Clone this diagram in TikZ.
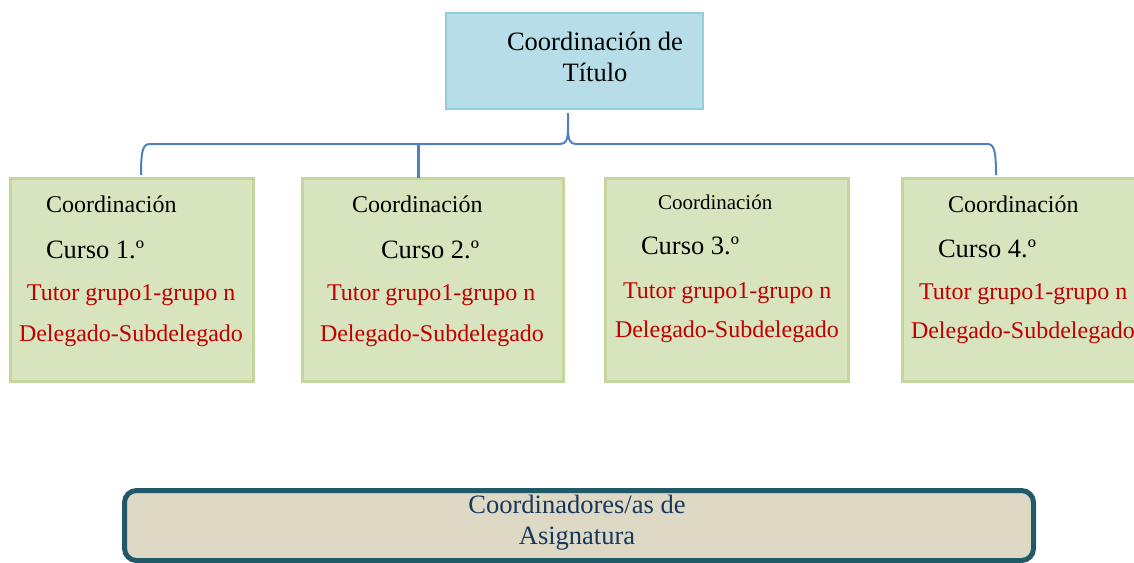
\documentclass[tikz,border=0pt]{standalone}
\usepackage{fontspec}
\setmainfont{Liberation Serif}
\usepackage{tikz}
\usetikzlibrary{positioning}

\definecolor{titlefill}{HTML}{B7DEE8}
\definecolor{titleline}{HTML}{93CDDD}
\definecolor{cursofill}{HTML}{D7E4BD}
\definecolor{cursoline}{HTML}{C3D69B}
\definecolor{bracecol}{HTML}{4F81BD}
\definecolor{asigfill}{HTML}{DDD9C4}
\definecolor{asigline}{HTML}{215968}
\definecolor{asigtext}{HTML}{17375E}
\definecolor{tutorred}{HTML}{C00000}

\begin{document}
\begin{tikzpicture}[x=1pt,y=-1pt,inner sep=0pt,outer sep=0pt,
  titlebox/.style={draw=titleline,line width=2.5pt,fill=titlefill,minimum width=257pt,minimum height=96pt},
  cursobox/.style={draw=cursoline,line width=3pt,fill=cursofill,minimum width=243pt,minimum height=203pt},
  asigbox/.style={draw=asigline,line width=5pt,fill=asigfill,rounded corners=12pt,minimum width=909pt,minimum height=70pt},
  big/.style={font=\fontsize{26.5}{31}\selectfont},
  mid/.style={font=\fontsize{24}{29}\selectfont},
  small/.style={font=\fontsize{21}{25}\selectfont},
  tutor/.style={mid,text=tutorred},
  brace/.style={draw=bracecol,line width=2pt}]
\useasboundingbox (0,0) rectangle (1134,562);

\node[titlebox] (titulo) at (574.5,61) {};
\node[big,align=center] (titulotxt) at (595,57) {Coordinación de\\Título};

\node[cursobox] (c1) at (131.5,279.5) {};
\node[cursobox,minimum width=261pt,right=49pt of c1] (c2) {};
\node[cursobox,right=42pt of c2] (c3) {};
\node[cursobox,right=54pt of c3] (c4) {};

% curso 1
\node[mid,anchor=base west] (c1a) at (46,212) {Coordinación};
\node[big,anchor=base west] (c1b) at (46,258) {Curso 1.º};
\node[tutor,anchor=base west] (c1c) at (27,300) {Tutor grupo1-grupo n};
\node[tutor,anchor=base west] (c1d) at (19,341) {Delegado-Subdelegado};
% curso 2
\node[mid,anchor=base west] (c2a) at (352,212) {Coordinación};
\node[big,anchor=base west] (c2b) at (381,258) {Curso 2.º};
\node[tutor,anchor=base west] (c2c) at (327,300) {Tutor grupo1-grupo n};
\node[tutor,anchor=base west] (c2d) at (320,341) {Delegado-Subdelegado};
% curso 3
\node[small,anchor=base west] (c3a) at (658,209) {Coordinación};
\node[big,anchor=base west] (c3b) at (641,254) {Curso 3.º};
\node[tutor,anchor=base west] (c3c) at (623,298) {Tutor grupo1-grupo n};
\node[tutor,anchor=base west] (c3d) at (615,337) {Delegado-Subdelegado};
% curso 4
\node[mid,anchor=base west] (c4a) at (948,212) {Coordinación};
\node[big,anchor=base west] (c4b) at (938,257) {Curso 4.º};
\node[tutor,anchor=base west] (c4c) at (919,299) {Tutor grupo1-grupo n};
\node[tutor,anchor=base west] (c4d) at (911,338) {Delegado-Subdelegado};

% llave
\coordinate (stem) at (568,113);
\coordinate (tip) at (568,128);
\coordinate (bl) at (141,175);
\coordinate (br) at (996,175);
\coordinate (mid) at (418,144);
\draw[brace] (stem) -- (tip) .. controls (568,140) and (566,144) .. (560,144) -- (150,144) .. controls (143,144) and (141,150) .. (bl);
\draw[brace] (tip) .. controls (568,140) and (570,144) .. (576,144) -- (987,144) .. controls (994,144) and (996,150) .. (br);
\draw[brace,line width=3pt] (mid) -- (mid |- c2.north);

\node[asigbox] (asig) at (579,525.5) {};
\node[big,text=asigtext,align=center] (asigtxt) at (577,523) {Coordinadores/as de\\Asignatura};
\end{tikzpicture}
\end{document}
